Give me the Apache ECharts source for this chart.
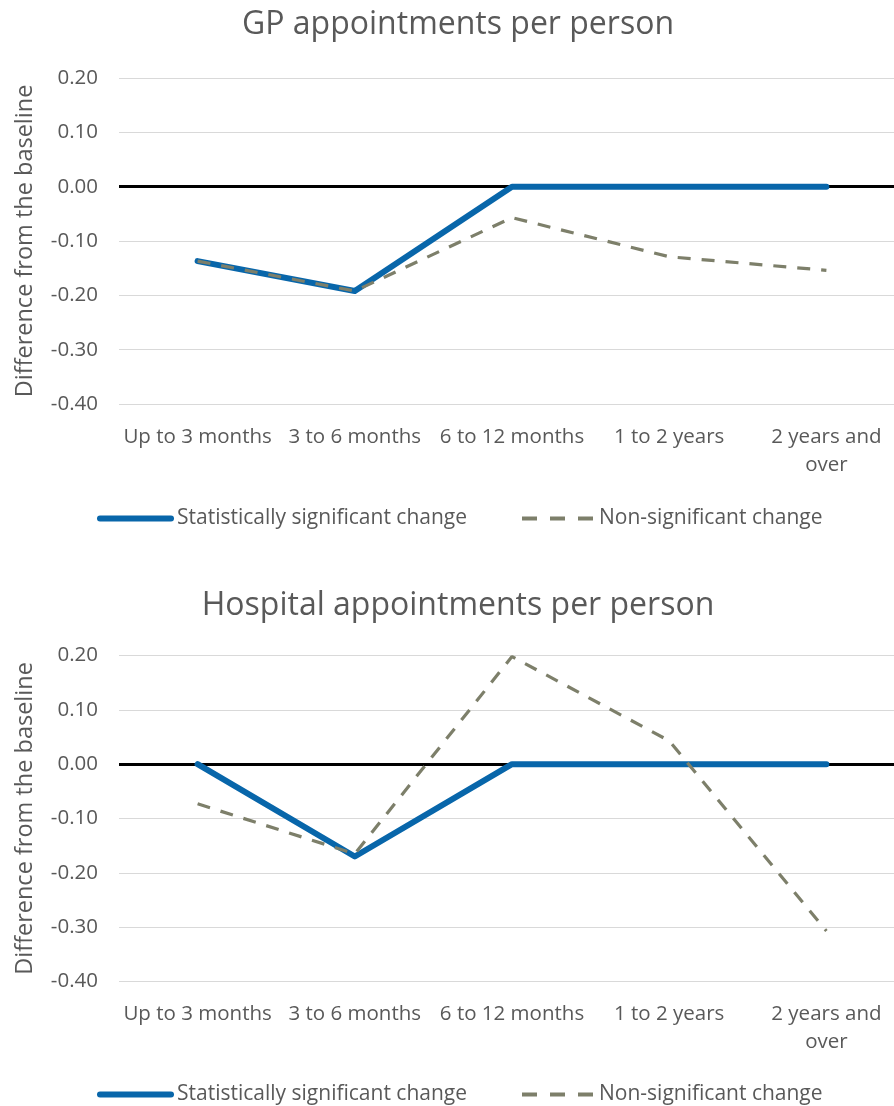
<!DOCTYPE html>
<html>
<head>
<meta charset="utf-8">
<script src="https://cdn.jsdelivr.net/npm/echarts@6/dist/echarts.min.js"></script>
<style>
  html, body { margin: 0; padding: 0; background: #ffffff; overflow: hidden; }
  #chart { width: 912px; height: 1106px; }
</style>
</head>
<body>
<div id="chart"></div>
<script>
// Time since baseline
const categories = ['Up to 3 months', '3 to 6 months', '6 to 12 months', '1 to 2 years', '2 years and over'];

// GP appointments per person: difference from the baseline
const gpSignificant = [-0.137, -0.192, 0, 0, 0];
const gpNonSignificant = [-0.137, -0.192, -0.057, -0.129, -0.154];

// Hospital appointments per person: difference from the baseline
const hospSignificant = [0, -0.170, 0, 0, 0];
const hospNonSignificant = [-0.073, -0.165, 0.198, 0.043, -0.307];

const yTicks = { min: -0.4, max: 0.2, interval: 0.1 };
const titles = ['GP appointments per person', 'Hospital appointments per person'];
const seriesNames = ['Statistically significant change', 'Non-significant change'];
const yAxisName = 'Difference from the baseline';

const FONT = '"Open Sans", sans-serif';
const TEXT = '#595959';
const BLUE = '#0866aa';
const OLIVE = '#7d7f6a';

const panelTops = [78, 655.5];
const plotHeight = 326;

function xAxisFor(i) {
  return {
    type: 'category', gridIndex: i, data: categories,
    boundaryGap: true,
    axisLine: { show: false },
    axisTick: { show: false },
    axisLabel: {
      color: TEXT, fontFamily: FONT, fontSize: 20.5, margin: 19, lineHeight: 28,
      interval: 0,
      // long labels wrap after "and", as in the category axis of the source workbook
      formatter: v => v.replace(' and ', ' and\n')
    }
  };
}

function yAxisFor(i) {
  return {
    type: 'value', gridIndex: i,
    min: yTicks.min, max: yTicks.max, interval: yTicks.interval,
    name: yAxisName, nameLocation: 'middle', nameGap: 82, nameRotate: 90,
    nameTextStyle: { color: TEXT, fontFamily: FONT, fontSize: 23.5 },
    axisLine: { show: false }, axisTick: { show: false },
    axisLabel: { color: TEXT, fontFamily: FONT, fontSize: 20.5, margin: 21, formatter: v => v.toFixed(2) },
    splitLine: { lineStyle: { color: '#d9d9d9', width: 1 } }
  };
}

function seriesFor(i, sig, nonSig) {
  return [
    {
      name: seriesNames[0], type: 'line', xAxisIndex: i, yAxisIndex: i, data: sig,
      symbol: 'none', z: 3,
      lineStyle: { color: BLUE, width: 6, cap: 'round', join: 'round' },
      itemStyle: { color: BLUE },
      markLine: {
        silent: true, symbol: 'none', label: { show: false }, z: 1,
        lineStyle: { color: '#000000', width: 3, type: 'solid' },
        data: [{ yAxis: 0 }]
      }
    },
    {
      name: seriesNames[1], type: 'line', xAxisIndex: i, yAxisIndex: i, data: nonSig,
      symbol: 'none', z: 4,
      lineStyle: { color: OLIVE, width: 3.2, type: [13, 11], cap: 'butt' },
      itemStyle: { color: OLIVE }
    }
  ];
}

function legendsFor(top) {
  const common = {
    top: top, itemWidth: 71, itemHeight: 8, itemGap: 0, padding: 0,
    itemStyle: { color: 'transparent', borderWidth: 0 },
    textStyle: { color: TEXT, fontFamily: FONT, fontSize: 21, padding: [0, 0, 0, 1] },
    selectedMode: false
  };
  return [
    Object.assign({}, common, {
      left: 97, data: [seriesNames[0]],
      lineStyle: { width: 6, cap: 'round' }
    }),
    Object.assign({}, common, {
      left: 520, data: [seriesNames[1]],
      lineStyle: { width: 4, type: [15, 13], cap: 'butt' }
    })
  ];
}

const option = {
  animation: false,
  backgroundColor: '#ffffff',
  title: titles.map((t, i) => ({
    text: t, left: 453, textAlign: 'center', top: i === 0 ? 4 : 585,
    textStyle: { color: TEXT, fontFamily: FONT, fontSize: 32, fontWeight: 'normal' }
  })),
  legend: legendsFor(508).concat(legendsFor(1084)),
  grid: panelTops.map(t => ({ left: 119, top: t, width: 786, height: plotHeight })),
  xAxis: [xAxisFor(0), xAxisFor(1)],
  yAxis: [yAxisFor(0), yAxisFor(1)],
  series: seriesFor(0, gpSignificant, gpNonSignificant).concat(seriesFor(1, hospSignificant, hospNonSignificant))
};

const chart = echarts.init(document.getElementById('chart'), null, { renderer: 'canvas' });
chart.setOption(option);
</script>
</body>
</html>
